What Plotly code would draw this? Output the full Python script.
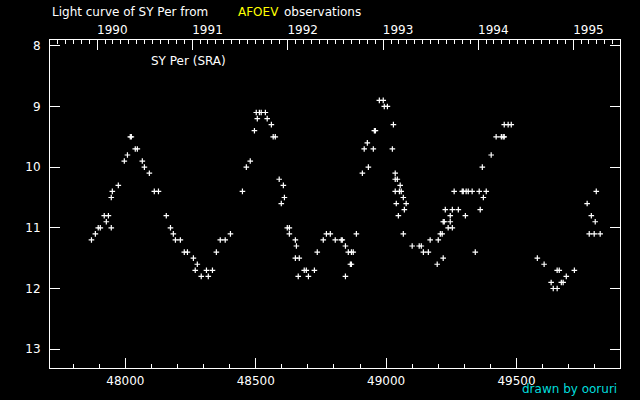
import plotly.graph_objects as go
import pandas as pd

# JD - 2400000 and visual magnitude
jd = [47870, 47885, 47896, 47904, 47919, 47927, 47935, 47946, 47946, 47950,
      47973, 47996, 48008, 48019, 48023, 48038, 48046, 48065, 48073, 48092,
      48111, 48127, 48157, 48173, 48184, 48192, 48211, 48226, 48238, 48261,
      48268, 48276, 48291, 48311, 48318, 48334, 48349, 48364, 48383, 48403,
      48449, 48464, 48479, 48495, 48502, 48506, 48514, 48521, 48537, 48544,
      48560, 48567, 48575, 48590, 48598, 48606, 48610, 48621, 48629, 48629,
      48652, 48652, 48656, 48663, 48667, 48686, 48694, 48702, 48725, 48736,
      48759, 48771, 48786, 48805, 48828, 48832, 48844, 48844, 48855, 48863,
      48867, 48867, 48874, 48886, 48909, 48916, 48928, 48932, 48951, 48955,
      48959, 48974, 48989, 48993, 49005, 49024, 49028, 49035, 49035, 49035,
      49039, 49043, 49047, 49051, 49054, 49058, 49066, 49066, 49070, 49077,
      49100, 49127, 49135, 49143, 49162, 49169, 49196, 49200, 49208, 49215,
      49219, 49219, 49223, 49227, 49238, 49246, 49246, 49254, 49254, 49261,
      49277, 49292, 49296, 49304, 49307, 49315, 49330, 49342, 49357, 49361,
      49369, 49373, 49384, 49403, 49422, 49442, 49449, 49453, 49453, 49468,
      49480, 49580, 49606, 49633, 49641, 49656, 49656, 49664, 49672, 49679,
      49691, 49722, 49771, 49779, 49787, 49798, 49802, 49806, 49821]
mag = [11.2, 11.1, 11.0, 11.0, 10.8, 10.9, 10.8, 11.0, 10.5, 10.4,
       10.3, 9.9, 9.8, 9.5, 9.5, 9.7, 9.7, 9.9, 10.0, 10.1,
       10.4, 10.4, 10.8, 11.0, 11.1, 11.2, 11.2, 11.4, 11.4, 11.5,
       11.7, 11.6, 11.8, 11.7, 11.8, 11.7, 11.4, 11.2, 11.2, 11.1,
       10.4, 10.0, 9.9, 9.4, 9.1, 9.2, 9.1, 9.1, 9.1, 9.2,
       9.3, 9.5, 9.5, 10.2, 10.6, 10.3, 10.5, 11.0, 11.0, 11.1,
       11.2, 11.5, 11.3, 11.8, 11.5, 11.7, 11.7, 11.8, 11.7, 11.4,
       11.2, 11.1, 11.1, 11.2, 11.2, 11.2, 11.3, 11.8, 11.4, 11.6,
       11.4, 11.6, 11.4, 11.1, 10.1, 9.7, 9.6, 10.0, 9.7, 9.4,
       9.4, 8.9, 8.9, 9.0, 9.0, 9.7, 9.3, 10.1, 10.2, 10.4,
       10.6, 10.2, 10.8, 10.4, 10.3, 10.4, 10.5, 11.1, 10.7, 10.6,
       11.3, 11.3, 11.3, 11.4, 11.4, 11.2, 11.6, 11.2, 11.1, 11.1,
       11.5, 10.9, 10.9, 10.7, 11.0, 10.9, 10.8, 11.0, 10.7, 10.4,
       10.7, 10.4, 10.4, 10.8, 10.4, 10.4, 10.4, 11.4, 10.4, 10.7,
       10.0, 10.5, 10.4, 9.8, 9.5, 9.5, 9.5, 9.5, 9.3, 9.3,
       9.3, 11.5, 11.6, 11.9, 12.0, 11.7, 12.0, 11.7, 11.9, 11.9,
       11.8, 11.7, 10.6, 11.1, 10.8, 11.1, 10.9, 10.4, 11.1]

years = [1990, 1991, 1992, 1993, 1994, 1995]

jd_range = [47711, 49897]
mag_range = [13.31, 7.905]

# year and month positions on the top axis (JD - 2400000)
year_jd = [pd.Timestamp(f"{y}-01-01").to_julian_date() - 2400000 for y in years]
months = pd.date_range("1989-08-01", "1995-06-01", freq="MS")
month_jd = [m.to_julian_date() - 2400000 for m in months]

white = "white"
tfont = dict(family="DejaVu Sans", size=12, color=white)

fig = go.Figure()
fig.add_trace(go.Scatter(x=jd, y=mag, mode="markers", showlegend=False,
                         marker=dict(symbol="cross-thin", size=4,
                                     line=dict(color=white, width=1.2))))
fig.add_trace(go.Scatter(x=[], y=[], xaxis="x2", yaxis="y2", showlegend=False))

fig.update_layout(
    width=640, height=400,
    paper_bgcolor="black", plot_bgcolor="black",
    margin=dict(l=50, r=20, t=40, b=30),
    xaxis=dict(range=jd_range, showgrid=False, zeroline=False,
               showline=True, linecolor=white, linewidth=1,
               ticks="inside", ticklen=10, tickcolor=white, tickwidth=1,
               tick0=0, dtick=500, tickformat="d", tickfont=tfont,
               ticklabelstandoff=2,
               minor=dict(ticks="inside", dtick=100, tick0=0, ticklen=4,
                          tickcolor=white, tickwidth=1, showgrid=False)),
    xaxis2=dict(range=jd_range, overlaying="x", side="top", showgrid=False,
                zeroline=False, showline=True, linecolor=white, linewidth=1,
                ticks="inside", ticklen=10, tickcolor=white, tickwidth=1,
                tickmode="array", tickvals=year_jd, ticktext=[str(y) for y in years],
                tickfont=tfont, ticklabelshift=15,
                minor=dict(ticks="inside", tickvals=month_jd, ticklen=4,
                           tickcolor=white, tickwidth=1, showgrid=False)),
    yaxis=dict(range=mag_range, showgrid=False, zeroline=False,
               showline=True, linecolor=white, linewidth=1,
               ticks="inside", ticklen=10, tickcolor=white, tickwidth=1,
               tick0=0, dtick=1, tickfont=tfont, ticklabelstandoff=6),
    yaxis2=dict(range=mag_range, overlaying="y", side="right", showgrid=False,
                zeroline=False, showline=True, linecolor=white, linewidth=1,
                ticks="inside", ticklen=10, tickcolor=white, tickwidth=1,
                tick0=0, dtick=1, showticklabels=False),
)

def label(text, px, py, color=white):
    fig.add_annotation(text=text, xref="paper", yref="paper",
                       x=(px - 50) / 570, y=(370 - py) / 330,
                       xanchor="left", yanchor="middle", showarrow=False,
                       font=dict(family="DejaVu Sans", size=12, color=color))

label("Light curve of SY Per from", 50, 12)
label("AFOEV", 236, 12, "#ffff00")
label("observations", 282, 12)
label("SY Per (SRA)", 149, 61)
label("drawn by ooruri", 520, 391, "#00dcdc")

fig.write_html("out.html", config={"displayModeBar": False},
               post_script="document.body.style.margin='0';")
